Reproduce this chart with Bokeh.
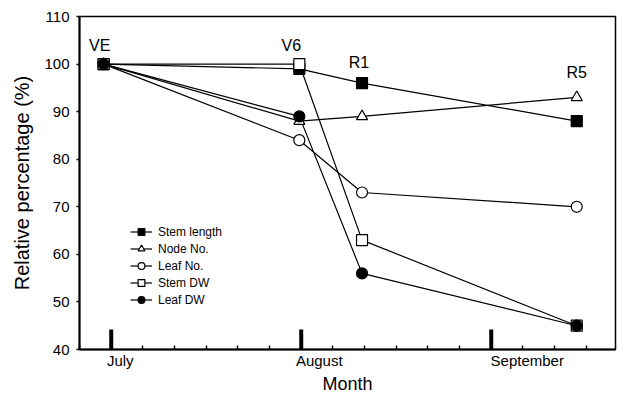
from bokeh.plotting import figure
from bokeh.models import (FixedTicker, Range1d, Legend, LegendItem, Label,
                          CustomJSTickFormatter)
from bokeh.embed import file_html
from bokeh.resources import INLINE

# ---- data ----
stage_names = ["VE", "V6", "R1", "R5"]
stage_x = [-0.04, 0.99, 1.32, 2.45]          # position in months (0 = July)
stem_length = [100, 99, 96, 88]
node_no = [100, 88, 89, 93]
leaf_no = [100, 84, 73, 70]
stem_dw = [100, 100, 63, 45]
leaf_dw = [100, 89, 56, 45]
months = ["July", "August", "September"]
month_ticks = [0, 1, 2]
y_ticks = [40, 50, 60, 70, 80, 90, 100, 110]

FONT = "Liberation Sans"
PX_PER_MONTH = 190.0
# month names sit slightly right of their tick (printed left-aligned)
label_shift_px = [9, 18, 36]
month_label_pos = [t + s / PX_PER_MONTH for t, s in zip(month_ticks, label_shift_px)]

p = figure(width=619, height=396, output_backend="svg", toolbar_location=None,
           x_range=Range1d(-0.167, 2.654), y_range=Range1d(40, 110),
           min_border_left=79, min_border_right=4, min_border_top=16, min_border_bottom=46)
p.xgrid.visible = False
p.ygrid.visible = False
p.outline_line_color = "black"
p.outline_line_width = 1.5
p.outline_line_alpha = 1.0
p.background_fill_color = "white"
p.border_fill_color = "white"

minor = [k / 6 for k in range(-1, 16) if k % 6 != 0]
xa = p.xaxis[0]
xa.ticker = FixedTicker(ticks=month_label_pos, minor_ticks=minor)
xa.formatter = CustomJSTickFormatter(args=dict(pos=month_label_pos, names=months),
                                     code="const i = pos.indexOf(tick); return i >= 0 ? names[i] : '';")
xa.major_label_text_font = FONT
xa.major_label_text_font_size = "15px"
xa.major_label_text_color = "black"
xa.major_label_standoff = 2
xa.major_tick_in = 0
xa.major_tick_out = 0
xa.major_tick_line_color = None
xa.minor_tick_in = 4
xa.minor_tick_out = 0
xa.minor_tick_line_width = 1.5
xa.axis_line_width = 2
xa.axis_label = "Month"
xa.axis_label_text_font = FONT
xa.axis_label_text_font_style = "normal"
xa.axis_label_text_font_size = "18px"
xa.axis_label_text_color = "black"
xa.axis_label_standoff = 2

# thick month ticks rising from the x axis
p.rect(x=month_ticks, y=[40] * len(month_ticks), width=4, height=40,
       width_units="screen", height_units="screen", fill_color="black", line_color=None)

# y axis
ya = p.yaxis[0]
ya.ticker = FixedTicker(ticks=y_ticks, minor_ticks=[])
ya.major_tick_in = 0
ya.major_tick_out = 3
ya.major_tick_line_width = 1.5
ya.axis_line_width = 2
ya.major_label_text_font = FONT
ya.major_label_text_font_size = "15px"
ya.major_label_text_color = "black"
ya.major_label_standoff = 7
ya.axis_label = "Relative percentage (%)"
ya.axis_label_text_font = FONT
ya.axis_label_text_font_style = "normal"
ya.axis_label_text_font_size = "20px"
ya.axis_label_text_color = "black"
ya.axis_label_standoff = 8

series = [
    ("Stem length", stem_length, "square", "black"),
    ("Node No.", node_no, "triangle", "white"),
    ("Leaf No.", leaf_no, "circle", "white"),
    ("Stem DW", stem_dw, "square", "white"),
    ("Leaf DW", leaf_dw, "circle", "black"),
]

lines = []
for name, vals, mk, fill in series:
    ln = p.line(stage_x, vals, line_color="black", line_width=1.2)
    lines.append((name, ln, vals, mk, fill))

items = []
for name, ln, vals, mk, fill in lines:
    sc = p.scatter(stage_x, vals, marker=mk, size=11, fill_color=fill,
                   line_color="black", line_width=1.2)
    items.append(LegendItem(label=name, renderers=[ln, sc]))

legend = Legend(items=items, location=(51, 41), padding=0, margin=0, spacing=0,
                glyph_width=22, glyph_height=17, label_height=17,
                label_standoff=6, label_text_font=FONT, label_text_font_size="12px",
                label_text_color="black",
                border_line_color=None, background_fill_alpha=0)
p.add_layout(legend)

# stage labels
stage_label_y = [104, 104, 100.4, 98.3]
stage_label_dx = [-4, -8, -3, 0]
for nm, x, y, dx in zip(stage_names, stage_x, stage_label_y, stage_label_dx):
    p.add_layout(Label(x=x, y=y, text=nm, x_offset=dx, text_align="center",
                       text_baseline="middle", text_font=FONT, text_font_size="16px",
                       text_color="black"))

open("out.html", "w").write(file_html(p, INLINE))
